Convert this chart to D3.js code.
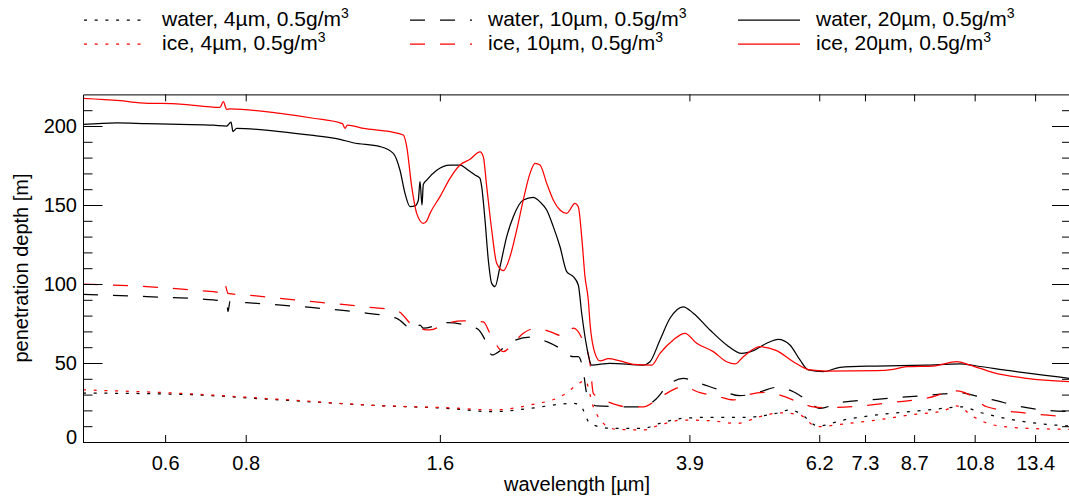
<!DOCTYPE html>
<html><head><meta charset="utf-8">
<script src="https://cdn.jsdelivr.net/npm/d3@7"></script>
<style>
body{margin:0;background:#fff;}
svg{display:block;font-family:"Liberation Sans",Arial,Helvetica,sans-serif;}
</style></head>
<body>
<svg id="c" width="1069" height="500"></svg>
<script>
// ---- data (wavelength in µm, penetration depth in m) ----
const xTickValues = [0.6, 0.8, 1.6, 3.9, 6.2, 7.3, 8.7, 10.8, 13.4];
const xTickLabels = ["0.6","0.8","1.6","3.9","6.2","7.3","8.7","10.8","13.4"];
const yTickValues = [0, 50, 100, 150, 200];
const yMinorValues = [10,20,30,40,60,70,80,90,110,120,130,140,160,170,180,190,210];

const water20Wl = [0.4475,0.5047,0.5618,0.6327,0.7127,0.7475,0.7591,0.7645,0.7747,0.9042,1.0184,1.1202,1.1734,1.2922,1.3550,1.3878,1.4128,1.4382,1.4642,1.4816,1.4905,1.5012,1.5082,1.5267,1.5822,1.6590,1.7193,1.7711,1.8139,1.8467,1.8578,1.8799,1.9022,1.9254,1.9482,1.9834,2.0314,2.0797,2.1553,2.2336,2.2878,2.3431,2.3989,2.4572,2.5166,2.5765,2.6229,2.6549,2.7028,2.7514,2.9373,3.3081,3.3881,3.5112,3.6388,3.8158,3.9545,4.1974,4.4551,4.7005,4.8992,5.1391,5.3563,5.5849,5.7879,5.9618,6.2901,6.6764,7.6112,9.0987,10.248,10.877,12.250,13.796,15.124];
const water20 = [201,202,201.5,201,200.5,200,202.5,196.5,198.5,196.5,194,191.6,189.4,187,182.7,172,157.4,149,149.4,153,165,150,163,165.8,172,175.3,175.3,172,169,166.9,161.6,140.5,115.2,100.4,98.3,111,130,142.6,153.2,154.9,152,146.8,136.3,123.6,107.8,104.6,99.4,81.5,60.3,48.7,49.8,48.7,50.8,64.6,78.3,85.6,81.5,70.9,61.4,56.1,57.8,62.5,65,61.4,51.9,45.6,44.5,47.3,48.1,48.7,49.4,48.1,45.1,42.4,40.3];

const ice20Wl = [0.4475,0.5107,0.5486,0.6327,0.7299,0.7385,0.7475,0.7564,0.9042,1.0184,1.1300,1.1404,1.1500,1.2174,1.3391,1.4042,1.4215,1.4470,1.4731,1.5082,1.5267,1.5447,1.6008,1.6590,1.7193,1.7819,1.8467,1.8684,1.8914,1.9254,1.9601,2.0068,2.0555,2.1052,2.1553,2.2076,2.2472,2.2878,2.3431,2.3989,2.4572,2.5166,2.5922,2.6229,2.6549,2.6864,2.7183,2.7349,2.7841,2.8343,2.9195,3.0441,3.1921,3.4085,3.5112,3.6820,3.8388,4.0027,4.2472,4.4551,4.5890,4.7274,5.0177,5.3259,5.6512,5.9983,6.3667,7.6112,8.0761,8.4716,9.3160,10.128,10.620,11.541,13.003,15.124];
const ice20 = [217.5,216,214.7,213.9,211.8,215.4,210.5,210.8,208,204.9,201.5,198.5,200.6,198.5,196.4,194.3,186.9,161.6,144.7,138.4,140,144.7,155.3,166.9,175.3,178.9,183.7,180.6,161.6,134.2,113.1,108.4,117.3,134.2,153.2,170,176.4,175.3,163.7,153.2,146.8,144.7,151.1,148.9,130,104.6,89.9,75.1,56.1,51.3,52.7,51.3,49.2,48.7,56.1,64.6,68.8,62.5,57.2,50.8,49.4,54,60.3,57.8,50.8,45.6,44.9,45.1,46,47.7,48.1,50.8,48.7,43.9,40.3,38.2];

const water10Wl = [0.4475,0.5618,0.7127,0.7475,0.7510,0.7564,0.8028,1.0184,1.2174,1.3716,1.4553,1.4905,1.5082,1.6397,1.8250,1.8914,1.9254,2.0068,2.0797,2.2076,2.3431,2.4572,2.5765,2.6229,2.6703,2.7028,2.8011,3.1177,3.3081,3.4700,3.5961,3.8158,4.0502,4.3499,4.6719,5.0177,5.3259,5.6512,5.9279,6.2163,6.6764,7.6112,8.5721,9.6546,10.248,10.877,11.541,13.003,15.124];
const water10 = [93.5,92,89.9,89,82.5,89,88.2,85,81.8,78.3,70.9,74,72,75.5,71.9,62.5,55.1,59.3,63.9,66.3,63.5,59.3,54,54,45,30.8,22.8,22.3,22.3,27.6,35,40.3,37.1,32.9,29.3,31.8,34.6,31.8,26.6,21.3,24.9,27,28.7,30.4,31.2,29.1,26.6,21.7,19.2];

const ice10Wl = [0.4475,0.5618,0.7127,0.7385,0.7430,0.7510,0.8028,1.0184,1.2468,1.3716,1.4731,1.5447,1.6397,1.7397,1.8684,1.9138,2.0068,2.0797,2.1553,2.2610,2.3710,2.4861,2.5765,2.6703,2.7349,2.7674,2.8343,2.9373,3.1177,3.3081,3.4700,3.5961,3.8158,4.0502,4.2989,4.5615,4.7849,5.0773,5.3891,5.7879,6.0695,6.3667,7.1707,8.0761,9.0987,10.128,10.620,11.273,13.003,15.124];
const ice10 = [100,98.3,95.1,94.5,99.4,94,93,88.8,85.2,83.1,72,70.9,75.1,76.6,76.1,68.8,57.2,62.5,68.8,72,69.8,67.1,72,63.5,49.8,30.8,27.7,24.9,22.3,22.3,26.6,30.8,35,31.2,29.1,26.6,29.7,31.4,29.7,24.9,22.3,21.7,22.8,25.1,27.7,32.3,29.7,22.3,18.2,16];

const water4Wl = [0.4475,0.6327,0.9042,1.2922,1.6397,1.9364,2.2076,2.5765,2.6390,2.7349,2.9373,3.3081,3.5112,3.8158,4.1974,4.7274,5.3259,5.5849,5.7879,6.1785,6.7556,7.6112,8.5721,9.6546,10.248,11.137,12.250,13.796,15.124];
const water4 = [31,30.2,26.6,23,21.3,19.2,21.3,24.5,23.4,11.8,8.7,8.7,11.8,15,15.6,15.6,18.2,20.3,18.2,10.1,13.9,17.1,19.2,21.3,22.3,18.2,14.4,11.4,10.1];

const ice4Wl = [0.4475,0.6327,0.9042,1.2922,1.6397,1.9364,2.2076,2.4861,2.6390,2.6864,2.7674,2.8679,3.0084,3.3081,3.5112,3.8158,4.1974,4.6171,5.0177,5.3891,5.7879,6.1434,6.7556,7.6112,8.5721,9.6546,10.128,10.746,11.541,13.003,15.124];
const ice4 = [33,30.8,27,23,21.7,20.3,23.4,29.7,37.5,39.2,22.3,11.8,8,7.6,10.8,13.9,13.5,11.8,16,18.5,17.1,9.7,11.4,13.9,17.1,19.8,22.8,16,10.8,8.7,8];

const seriesNames = ["water, 4µm, 0.5g/m","water, 10µm, 0.5g/m","water, 20µm, 0.5g/m","ice, 4µm, 0.5g/m","ice, 10µm, 0.5g/m","ice, 20µm, 0.5g/m"];

// ---- layout ----
const pLeft = 83, pRight = 1069, pTop = 94.4, pBottom = 442;
const svg = d3.select("#c");

const x = d3.scaleLog().domain([0.4475, 15.124]).range([pLeft, pRight]);
const y = d3.scaleLinear().domain([0, 220]).range([pBottom, pTop]);

const styles = { dot: "3,7.7", dash: "15,15", solid: null };
const series = [
  {wl: water4Wl, v: water4, color: "#000", dash: styles.dot},
  {wl: water10Wl, v: water10, color: "#000", dash: styles.dash},
  {wl: water20Wl, v: water20, color: "#000", dash: styles.solid},
  {wl: ice4Wl, v: ice4, color: "#ff0000", dash: styles.dot},
  {wl: ice10Wl, v: ice10, color: "#ff0000", dash: styles.dash},
  {wl: ice20Wl, v: ice20, color: "#ff0000", dash: styles.solid}
];

const line = d3.line().curve(d3.curveMonotoneX).x(d => x(d[0])).y(d => y(d[1]));
const plot = svg.append("g");
[0,3,1,4,2,5].forEach(i => {
  const s = series[i];
  const pts = s.wl.map((w, k) => [w, s.v[k]]);
  plot.append("path")
    .attr("d", line(pts))
    .attr("fill", "none")
    .attr("stroke", s.color)
    .attr("stroke-width", 1.25)
    .attr("stroke-linejoin", "round")
    .attr("stroke-dasharray", s.dash);
});

// ---- axes ----
const fs = "20px";
const bottomAxis = d3.axisBottom(x).tickValues(xTickValues)
  .tickFormat((d, i) => xTickLabels[i]).tickSizeInner(-7).tickSizeOuter(0).tickPadding(14);
const gB = svg.append("g").attr("transform", `translate(0,${pBottom})`).call(bottomAxis);
gB.selectAll("text").style("font-size", fs).attr("fill", "#000");

const topAxis = d3.axisTop(x).tickValues(xTickValues).tickFormat("").tickSizeInner(-7).tickSizeOuter(0);
svg.append("g").attr("transform", `translate(0,${pTop})`).call(topAxis);

const leftAxis = d3.axisLeft(y).tickValues(yTickValues).tickSizeInner(-19.5).tickSizeOuter(0).tickPadding(6);
const gL = svg.append("g").attr("transform", `translate(${pLeft},0)`).call(leftAxis);
gL.selectAll("text").style("font-size", fs).attr("fill", "#000")
  .attr("dy", d => d === 0 ? "0.07em" : "0.32em");
const leftMinor = d3.axisLeft(y).tickValues(yMinorValues).tickFormat("").tickSizeInner(-9.5).tickSizeOuter(0);
svg.append("g").attr("transform", `translate(${pLeft},0)`).call(leftMinor).select(".domain").remove();

const rightAxis = d3.axisRight(y).tickValues(yTickValues).tickFormat("").tickSizeInner(-17).tickSizeOuter(0);
svg.append("g").attr("transform", `translate(${pRight},0)`).call(rightAxis);
const rightMinor = d3.axisRight(y).tickValues(yMinorValues).tickFormat("").tickSizeInner(-7).tickSizeOuter(0);
svg.append("g").attr("transform", `translate(${pRight},0)`).call(rightMinor).select(".domain").remove();

svg.selectAll(".tick line, .domain").attr("stroke", "#000").attr("stroke-width", 1);

// axis titles
svg.append("text").attr("x", 577).attr("y", 491).attr("text-anchor", "middle")
  .style("font-size", fs).text("wavelength [µm]");
svg.append("text").attr("transform", "translate(28,268) rotate(-90)").attr("text-anchor", "middle")
  .style("font-size", fs).text("penetration depth [m]");

// ---- legend ----
const legendCols = [84, 410, 738];
const legendRows = [20, 44];
[0,1,2,3,4,5].forEach(i => {
  const s = series[i];
  const col = i % 3, row = Math.floor(i / 3);
  const lx = legendCols[col], ly = legendRows[row];
  svg.append("line").attr("x1", lx).attr("x2", lx + 62).attr("y1", ly).attr("y2", ly)
    .attr("stroke", s.color).attr("stroke-width", 1.25).attr("stroke-dasharray", s.dash);
  const t = svg.append("text").attr("x", lx + 78).attr("y", ly + 6).style("font-size", "21px");
  t.append("tspan").text(seriesNames[i]);
  t.append("tspan").attr("dy", -8).style("font-size", "14px").text("3");
});
</script>
</body></html>
